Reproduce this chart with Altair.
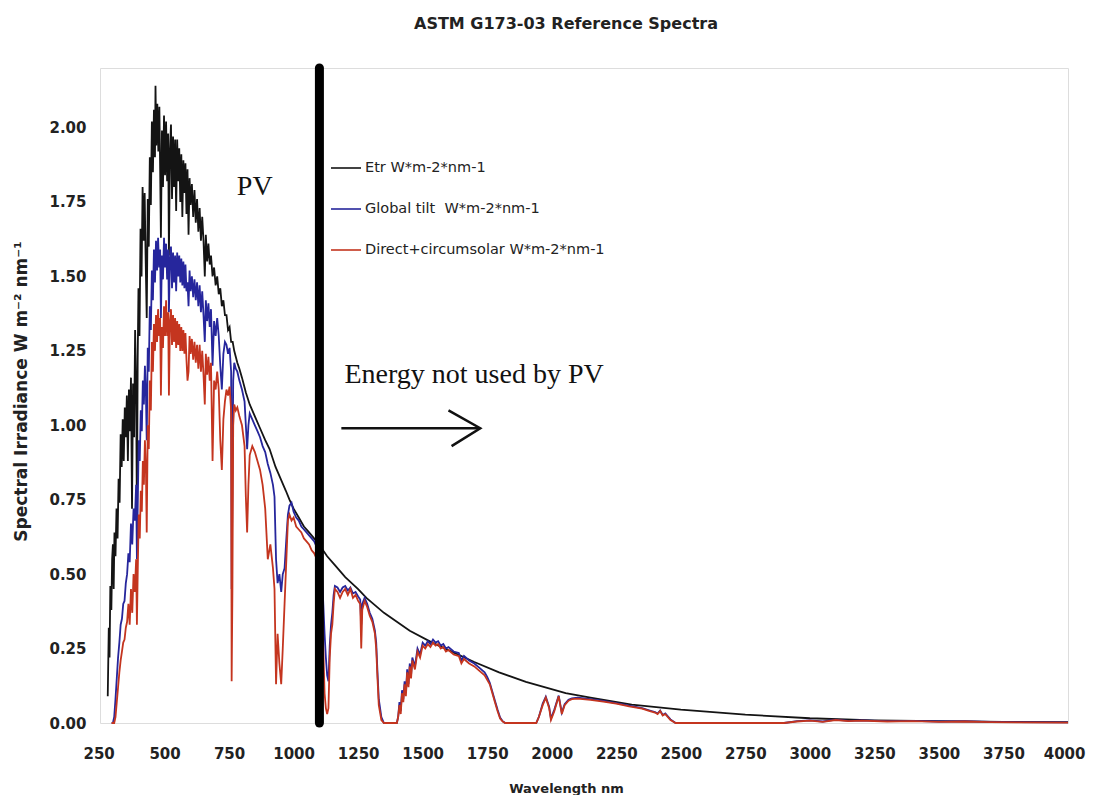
import altair as alt
import pandas as pd

# ---------------- text ----------------
title_text = "ASTM G173-03 Reference Spectra"
x_title = "Wavelength nm"
y_title = "Spectral Irradiance W m\u207b\u00b2 nm\u207b\u00b9"
series_names = ["Etr W*m-2*nm-1", "Global tilt\u00a0 W*m-2*nm-1", "Direct+circumsolar W*m-2*nm-1"]
series_colors = ["#141414", "#26269c", "#c4351f"]
x_ticks = [250, 500, 750, 1000, 1250, 1500, 1750, 2000, 2250, 2500, 2750, 3000, 3250, 3500, 3750, 4000]
y_ticks = [0.0, 0.25, 0.5, 0.75, 1.0, 1.25, 1.5, 1.75, 2.0]

# ---------------- spectra (wavelength nm, W m-2 nm-1) ----------------
etr = [
    (280, 0.09), (284, 0.32), (287, 0.22), (290, 0.46), (294, 0.38), (297, 0.55), (300, 0.60),
    (303, 0.45), (306, 0.64), (310, 0.56), (314, 0.72), (318, 0.62), (322, 0.82), (326, 0.74),
    (330, 0.97), (334, 0.86), (338, 1.02), (342, 0.88), (346, 1.06), (350, 0.96), (354, 1.10),
    (358, 0.88), (362, 1.12), (366, 0.98), (370, 1.16), (374, 0.72), (378, 1.14), (382, 0.96),
    (386, 1.32), (390, 1.12), (393, 0.68), (396, 1.22), (399, 1.46), (403, 1.30), (407, 1.66),
    (411, 1.50), (415, 1.80), (419, 1.62), (423, 1.78), (427, 1.55), (431, 1.36), (435, 1.76),
    (439, 1.60), (443, 1.90), (447, 1.74), (451, 2.02), (455, 1.85), (459, 2.06), (463, 1.90),
    (465, 2.14), (468, 1.94), (472, 2.08), (476, 1.92), (480, 2.07), (483, 1.86), (486, 1.63),
    (490, 1.99), (494, 1.80), (498, 2.04), (502, 1.84), (506, 2.02), (510, 1.82), (514, 1.98),
    (517, 1.57), (521, 1.92), (525, 2.01), (529, 1.76), (533, 1.97), (537, 1.80), (541, 1.96),
    (545, 1.72), (549, 1.96), (553, 1.82), (557, 1.93), (561, 1.75), (565, 1.91), (569, 1.70),
    (573, 1.89), (577, 1.78), (581, 1.88), (585, 1.71), (589, 1.86), (593, 1.64), (597, 1.83),
    (601, 1.74), (606, 1.81), (611, 1.70), (616, 1.79), (621, 1.68), (626, 1.76), (631, 1.65),
    (636, 1.73), (641, 1.62), (646, 1.70), (651, 1.62), (656, 1.50), (660, 1.64), (665, 1.55),
    (670, 1.61), (675, 1.54), (680, 1.57), (686, 1.50), (692, 1.53), (698, 1.47), (704, 1.50),
    (710, 1.44), (716, 1.46), (722, 1.40), (728, 1.42), (734, 1.37), (740, 1.37), (746, 1.32),
    (752, 1.33), (758, 1.28), (764, 1.28), (770, 1.25), (776, 1.23), (782, 1.21), (790, 1.19),
    (800, 1.16), (815, 1.11), (830, 1.07), (850, 1.03), (870, 0.99), (890, 0.95), (907, 0.92),
    (930, 0.86), (950, 0.82), (970, 0.78), (984, 0.75), (1000, 0.72), (1020, 0.69), (1040, 0.66),
    (1060, 0.64), (1089, 0.61), (1110, 0.585), (1130, 0.56), (1160, 0.53), (1200, 0.49),
    (1250, 0.45), (1282, 0.42), (1350, 0.37), (1400, 0.34), (1450, 0.31), (1537, 0.27),
    (1600, 0.245), (1700, 0.205), (1796, 0.17), (1900, 0.138), (2054, 0.10), (2150, 0.085),
    (2310, 0.062), (2500, 0.045), (2750, 0.028), (3000, 0.016), (3250, 0.009), (3500, 0.006),
    (3750, 0.004), (4000, 0.003),
]

global_tilt = [
    (295, 0.0), (300, 0.0), (305, 0.02), (310, 0.08), (315, 0.15), (320, 0.22), (325, 0.27),
    (330, 0.33), (335, 0.35), (340, 0.40), (345, 0.41), (350, 0.47), (355, 0.50), (360, 0.57),
    (365, 0.54), (370, 0.67), (375, 0.60), (380, 0.72), (385, 0.68), (390, 0.80), (393, 0.55),
    (396, 0.72), (400, 0.95), (404, 0.88), (408, 1.05), (412, 0.98), (416, 1.15), (420, 1.07),
    (424, 1.20), (428, 1.10), (431, 0.95), (435, 1.26), (439, 1.18), (443, 1.40), (447, 1.32),
    (451, 1.52), (455, 1.42), (459, 1.59), (463, 1.48), (467, 1.62), (471, 1.52), (475, 1.63),
    (479, 1.53), (483, 1.59), (486, 1.36), (490, 1.57), (494, 1.49), (498, 1.63), (502, 1.53),
    (506, 1.61), (510, 1.49), (514, 1.59), (517, 1.38), (521, 1.56), (525, 1.60), (529, 1.46),
    (533, 1.58), (537, 1.48), (541, 1.57), (545, 1.45), (549, 1.58), (553, 1.50), (557, 1.57),
    (561, 1.48), (565, 1.56), (569, 1.47), (573, 1.55), (577, 1.46), (581, 1.54), (585, 1.45),
    (589, 1.48), (593, 1.40), (597, 1.52), (601, 1.45), (606, 1.50), (611, 1.43), (616, 1.49),
    (621, 1.42), (626, 1.48), (631, 1.40), (636, 1.47), (641, 1.38), (646, 1.45), (651, 1.37),
    (656, 1.28), (660, 1.42), (665, 1.35), (670, 1.41), (675, 1.33), (680, 1.39), (686, 1.20),
    (692, 1.35), (698, 1.30), (704, 1.36), (710, 1.30), (716, 1.20), (722, 1.12), (728, 1.24),
    (734, 1.28), (740, 1.27), (746, 1.24), (752, 1.26), (758, 1.18), (760, 0.45), (763, 0.78),
    (766, 1.15), (770, 1.21), (776, 1.19), (782, 1.18), (790, 1.15), (800, 1.12), (810, 1.08),
    (815, 1.00), (820, 0.92), (825, 1.00), (830, 1.04), (840, 1.02), (850, 1.00), (860, 0.98),
    (870, 0.96), (880, 0.93), (890, 0.91), (900, 0.87), (910, 0.84), (920, 0.80), (926, 0.76),
    (932, 0.55), (938, 0.47), (945, 0.50), (952, 0.44), (958, 0.50), (965, 0.52), (972, 0.62),
    (978, 0.70), (984, 0.73), (992, 0.74), (1000, 0.71), (1010, 0.69), (1020, 0.68), (1030, 0.66),
    (1040, 0.65), (1050, 0.64), (1060, 0.63), (1070, 0.62), (1080, 0.61), (1090, 0.59),
    (1100, 0.56), (1110, 0.50), (1115, 0.40), (1120, 0.30), (1125, 0.22), (1130, 0.16),
    (1135, 0.14), (1140, 0.26), (1145, 0.33), (1150, 0.37), (1155, 0.43), (1160, 0.46),
    (1170, 0.455), (1180, 0.44), (1190, 0.455), (1200, 0.46), (1210, 0.445), (1220, 0.455),
    (1230, 0.435), (1240, 0.44), (1250, 0.425), (1258, 0.415), (1262, 0.33), (1266, 0.40),
    (1275, 0.42), (1285, 0.40), (1295, 0.37), (1305, 0.35), (1315, 0.31), (1320, 0.27),
    (1325, 0.17), (1330, 0.08), (1340, 0.02), (1350, 0.0), (1400, 0.0), (1405, 0.02),
    (1410, 0.07), (1415, 0.04), (1420, 0.11), (1425, 0.08), (1430, 0.14), (1435, 0.10),
    (1440, 0.18), (1445, 0.13), (1450, 0.20), (1455, 0.16), (1460, 0.22), (1470, 0.19),
    (1480, 0.25), (1490, 0.23), (1500, 0.27), (1510, 0.26), (1520, 0.275), (1530, 0.265),
    (1540, 0.28), (1550, 0.27), (1560, 0.275), (1570, 0.26), (1580, 0.265), (1590, 0.25),
    (1600, 0.255), (1620, 0.24), (1640, 0.235), (1650, 0.21), (1660, 0.225), (1680, 0.21),
    (1700, 0.20), (1720, 0.185), (1740, 0.17), (1750, 0.155), (1760, 0.135), (1770, 0.105),
    (1780, 0.075), (1790, 0.045), (1800, 0.018), (1810, 0.006), (1820, 0.0), (1940, 0.0),
    (1950, 0.02), (1965, 0.065), (1977, 0.088), (1990, 0.055), (1997, 0.015), (2010, 0.045),
    (2027, 0.092), (2039, 0.035), (2050, 0.063), (2065, 0.078), (2078, 0.083), (2100, 0.085),
    (2150, 0.08), (2200, 0.074), (2250, 0.067), (2300, 0.058), (2350, 0.05), (2380, 0.042),
    (2400, 0.037), (2410, 0.032), (2420, 0.042), (2430, 0.027), (2440, 0.032), (2460, 0.012),
    (2480, 0.0), (2900, 0.0), (2950, 0.006), (3000, 0.009), (3050, 0.005), (3100, 0.011),
    (3150, 0.007), (3200, 0.009), (3300, 0.006), (3400, 0.007), (3500, 0.005), (3600, 0.006),
    (3700, 0.004), (3800, 0.003), (4000, 0.002),
]

direct = [
    (295, 0.0), (300, 0.0), (305, 0.0), (310, 0.02), (315, 0.07), (320, 0.12), (325, 0.17),
    (330, 0.21), (335, 0.24), (340, 0.27), (345, 0.28), (350, 0.32), (355, 0.34), (360, 0.40),
    (365, 0.33), (370, 0.45), (375, 0.37), (380, 0.50), (385, 0.44), (390, 0.55), (393, 0.33),
    (396, 0.50), (400, 0.70), (404, 0.62), (408, 0.78), (412, 0.71), (416, 0.88), (420, 0.80),
    (424, 0.95), (428, 0.85), (431, 0.64), (435, 1.00), (439, 0.92), (443, 1.15), (447, 1.05),
    (451, 1.28), (455, 1.18), (459, 1.34), (463, 1.25), (467, 1.37), (471, 1.28), (475, 1.39),
    (479, 1.30), (483, 1.36), (486, 1.10), (490, 1.33), (494, 1.26), (498, 1.40), (502, 1.30),
    (506, 1.42), (510, 1.30), (514, 1.38), (517, 1.10), (521, 1.35), (525, 1.39), (529, 1.27),
    (533, 1.37), (537, 1.28), (541, 1.36), (545, 1.26), (549, 1.35), (553, 1.27), (557, 1.34),
    (561, 1.25), (565, 1.33), (569, 1.25), (573, 1.32), (577, 1.24), (581, 1.31), (585, 1.22),
    (589, 1.15), (593, 1.18), (597, 1.30), (601, 1.24), (606, 1.29), (611, 1.22), (616, 1.28),
    (621, 1.21), (626, 1.27), (631, 1.19), (636, 1.27), (641, 1.18), (646, 1.25), (651, 1.17),
    (656, 1.07), (660, 1.24), (665, 1.17), (670, 1.23), (675, 1.15), (680, 1.21), (686, 0.88),
    (692, 1.15), (698, 1.12), (704, 1.18), (710, 1.12), (716, 0.95), (722, 0.85), (728, 1.02),
    (734, 1.08), (740, 1.12), (746, 1.10), (752, 1.13), (758, 1.05), (760, 0.14), (763, 0.45),
    (766, 1.00), (770, 1.07), (776, 1.05), (782, 1.06), (790, 1.03), (800, 1.00), (810, 0.93),
    (815, 0.76), (820, 0.64), (825, 0.80), (830, 0.90), (840, 0.93), (850, 0.91), (860, 0.88),
    (870, 0.85), (880, 0.80), (890, 0.72), (900, 0.55), (910, 0.60), (920, 0.52), (926, 0.45),
    (932, 0.13), (938, 0.30), (945, 0.20), (952, 0.13), (958, 0.25), (965, 0.40), (972, 0.55),
    (978, 0.68), (984, 0.70), (992, 0.68), (1000, 0.69), (1010, 0.66), (1020, 0.65), (1030, 0.64),
    (1040, 0.62), (1050, 0.61), (1060, 0.60), (1070, 0.58), (1080, 0.57), (1090, 0.55),
    (1100, 0.50), (1110, 0.40), (1115, 0.25), (1120, 0.10), (1125, 0.05), (1130, 0.03),
    (1135, 0.05), (1140, 0.22), (1145, 0.30), (1150, 0.33), (1155, 0.40), (1160, 0.45),
    (1170, 0.44), (1180, 0.42), (1190, 0.44), (1200, 0.45), (1210, 0.43), (1220, 0.45),
    (1230, 0.42), (1240, 0.43), (1250, 0.41), (1258, 0.40), (1262, 0.25), (1266, 0.38),
    (1275, 0.41), (1285, 0.39), (1295, 0.36), (1305, 0.34), (1315, 0.30), (1320, 0.25),
    (1325, 0.15), (1330, 0.06), (1340, 0.01), (1350, 0.0), (1400, 0.0), (1405, 0.02),
    (1410, 0.06), (1415, 0.03), (1420, 0.10), (1425, 0.07), (1430, 0.13), (1435, 0.09),
    (1440, 0.17), (1445, 0.12), (1450, 0.19), (1455, 0.15), (1460, 0.21), (1470, 0.18),
    (1480, 0.24), (1490, 0.22), (1500, 0.26), (1510, 0.25), (1520, 0.265), (1530, 0.255),
    (1540, 0.27), (1550, 0.26), (1560, 0.265), (1570, 0.25), (1580, 0.255), (1590, 0.24),
    (1600, 0.245), (1620, 0.23), (1640, 0.225), (1650, 0.20), (1660, 0.215), (1680, 0.20),
    (1700, 0.19), (1720, 0.175), (1740, 0.16), (1750, 0.145), (1760, 0.13), (1770, 0.10),
    (1780, 0.07), (1790, 0.04), (1800, 0.015), (1810, 0.005), (1820, 0.0), (1940, 0.0),
    (1950, 0.02), (1965, 0.06), (1977, 0.085), (1990, 0.05), (1997, 0.01), (2010, 0.04),
    (2027, 0.09), (2039, 0.03), (2050, 0.06), (2065, 0.075), (2078, 0.08), (2100, 0.082),
    (2150, 0.078), (2200, 0.072), (2250, 0.065), (2300, 0.056), (2350, 0.048), (2380, 0.04),
    (2400, 0.035), (2410, 0.03), (2420, 0.04), (2430, 0.025), (2440, 0.03), (2460, 0.01),
    (2480, 0.0), (2900, 0.0), (2950, 0.005), (3000, 0.008), (3050, 0.004), (3100, 0.01),
    (3150, 0.006), (3200, 0.008), (3300, 0.005), (3400, 0.006), (3500, 0.004), (3600, 0.005),
    (3700, 0.003), (3800, 0.002), (4000, 0.001),
]

# ---------------- annotations ----------------
pv_cutoff_nm = [1100]
note_texts = ["PV", "Energy not used by PV"]
note_nm = [780, 1197]
note_val = [1.775, 1.143]
arrow_shaft_nm = [1185, 1723]
arrow_shaft_val = [0.99, 0.99]
arrow_head_nm = [1600, 1723, 1612]
arrow_head_val = [1.05, 0.99, 0.93]

# ---------------- tables ----------------
rows = []
for name, pts in zip(series_names, [etr, global_tilt, direct]):
    for i, (nm, v) in enumerate(pts):
        rows.append({"series": name, "nm": nm, "val": v, "i": i})
spectra = pd.DataFrame(rows)

notes = pd.DataFrame({"text": note_texts, "nm": note_nm, "val": note_val})
arrow = pd.DataFrame(
    [{"part": "shaft", "nm": n, "val": v, "i": k} for k, (n, v) in enumerate(zip(arrow_shaft_nm, arrow_shaft_val))]
    + [{"part": "head", "nm": n, "val": v, "i": k} for k, (n, v) in enumerate(zip(arrow_head_nm, arrow_head_val))]
)
cutoff = pd.DataFrame({"nm": pv_cutoff_nm, "top": [2.2], "bottom": [0.0]})

# ---------------- scales & axes ----------------
xscale = alt.Scale(domain=[250, 4000], nice=False, zero=False)
yscale = alt.Scale(domain=[0, 2.2], nice=False)

xaxis = alt.Axis(
    values=x_ticks, format="d", title=x_title, grid=False, domain=False, ticks=False, tickSize=0,
    labelFont="DejaVu Sans", labelFontSize=15, labelFontWeight="bold", labelColor="#222",
    labelPadding=23, labelFlush=True, labelFlushOffset=17,
    titleFont="DejaVu Sans", titleFontSize=13, titleFontWeight="bold", titleColor="#222",
    titleX=466, titleY=59,
)
yaxis = alt.Axis(
    values=y_ticks, format=".2f", title=y_title, grid=False, domain=False, ticks=False, tickSize=0,
    labelFont="DejaVu Sans", labelFontSize=15, labelFontWeight="bold", labelColor="#222",
    labelPadding=14,
    titleFont="DejaVu Sans", titleFontSize=17, titleFontWeight="bold", titleColor="#222",
    titleX=-70, titleY=323,
)

color = alt.Color(
    "series:N",
    scale=alt.Scale(domain=series_names, range=series_colors),
    legend=alt.Legend(
        title=None, orient="none", legendX=230, legendY=84,
        symbolType="stroke", symbolSize=900, symbolStrokeWidth=1.6,
        labelFont="DejaVu Sans", labelFontSize=14.5, labelColor="#222",
        labelOffset=3, labelLimit=400, rowPadding=18, padding=0,
    ),
)

layers = []
for name in series_names:
    layers.append(
        alt.Chart(spectra)
        .transform_filter(alt.datum.series == name)
        .mark_line(strokeWidth=1.8)
        .encode(
            x=alt.X("nm:Q", scale=xscale, axis=xaxis),
            y=alt.Y("val:Q", scale=yscale, axis=yaxis),
            color=color,
            order="i:Q",
        )
    )

cut_rule = alt.Chart(cutoff).mark_rule(color="#000", strokeWidth=9, strokeCap="round").encode(
    x="nm:Q", y="top:Q", y2="bottom:Q"
)

note_marks = alt.Chart(notes).mark_text(
    font="Liberation Serif", fontSize=28, align="left", baseline="alphabetic", color="#111"
).encode(x="nm:Q", y="val:Q", text="text:N")

arrow_marks = alt.Chart(arrow).mark_line(color="#111", strokeWidth=2.5).encode(
    x="nm:Q", y="val:Q", detail="part:N", order="i:Q"
)

chart = (
    alt.layer(*layers, cut_rule, arrow_marks, note_marks)
    .properties(
        width=968,
        height=655,
        title=alt.TitleParams(
            text=title_text, font="DejaVu Sans", fontSize=16, fontWeight="bold",
            color="#222", anchor="middle", offset=32, dx=-18,
        ),
        autosize=alt.AutoSizeParams(type="none"),
        padding={"left": 92, "top": 60, "right": 19, "bottom": 72},
    )
    .configure_view(stroke="#9a9aa8", strokeWidth=1)
    .configure(background="white")
)

chart.save("out.html", embed_options={"renderer": "svg", "actions": False})
